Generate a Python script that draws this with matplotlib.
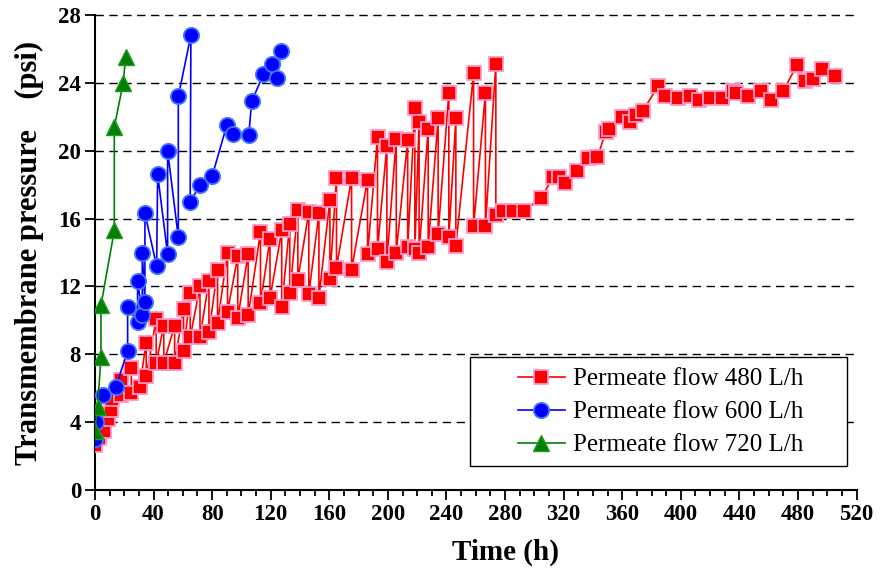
import matplotlib
matplotlib.use('Agg')
import matplotlib.pyplot as plt
from matplotlib.ticker import MultipleLocator
from matplotlib.patches import Rectangle
import numpy as np

plt.rcParams['font.family'] = ['Liberation Serif', 'DejaVu Serif']

# 480 L/h: start-up points, then the fouling/cleaning cycles (high then low), then the tail
red_start_t = [0, 3, 6, 9, 11, 11.5]
red_start_p = [2.65, 3.1, 3.5, 4.2, 4.7, 5.4]
red_cycle_t = [18, 24.8, 30.5, 35, 41.8, 47, 54.4, 60.5, 65, 71.7, 77.8, 83.7,
               90.5, 97.5, 104.6, 113, 119.5, 127.5, 133, 138.5, 146, 152.9,
               160.4, 164.9, 175.2, 186.1, 192.9, 199.3, 205.7, 213.5, 218.4,
               221.3, 227.5, 234.3, 241.6, 246.4, 258.5, 266.6, 273.7]
red_cycle_hi = [6.5, 7.2, 6.1, 8.7, 10.1, 9.7, 9.7, 10.7, 11.6, 12.0, 12.35, 13.0,
                14.0, 13.8, 13.9, 15.2, 14.8, 15.3, 15.7, 16.5, 16.4, 16.3,
                17.1, 18.4, 18.4, 18.3, 20.8, 20.3, 20.7, 20.6, 22.5,
                21.7, 21.3, 21.9, 23.4, 21.9, 24.55, 23.4, 25.1]
red_cycle_lo = [5.6, 5.7, 6.1, 6.7, 7.5, 7.5, 7.5, 8.2, 9.0, 9.0, 9.3, 9.85,
                10.5, 10.15, 10.3, 11.0, 11.3, 10.8, 11.6, 12.4, 11.55, 11.35,
                12.45, 13.1, 13.0, 13.9, 14.2, 13.45, 14.0, 14.3, 14.2,
                14.0, 14.35, 15.1, 14.9, 14.4, 15.55, 15.55, 16.2]
red_tail_t = [278.6, 285.5, 292.7, 304.8, 312.8, 316.9, 320.7, 329.1, 336.6, 343,
              348.7, 351, 360, 365, 369.7, 374.2, 384.4, 389, 398, 406, 412.4,
              420, 428.3, 435.6, 437.8, 445.8, 454.5, 461.8, 469.7, 479.5, 484.5,
              490.2, 496.5, 505]
red_tail_p = [16.47, 16.47, 16.47, 17.2, 18.47, 18.47, 18.08, 18.8, 19.57, 19.6,
              21.1, 21.3, 22.0, 21.7, 22.1, 22.35, 23.8, 23.2, 23.1, 23.2, 22.98,
              23.1, 23.1, 23.5, 23.4, 23.2, 23.5, 23.0, 23.5, 25.06, 24.1,
              24.2, 24.8, 24.4]

blue_t = [0, 1, 5.7, 14.3, 22.3, 22.3, 29.1, 29.1, 32.3, 32.3, 34.1, 34.1, 42.1,
          42.8, 49.6, 49.6, 56.9, 56.9, 65.5, 65, 72, 80, 90, 94, 105, 107, 115,
          121, 124.5, 127]
blue_p = [3.04, 4.0, 5.6, 6.1, 8.2, 10.8, 9.9, 12.35, 10.35, 14.0, 11.1, 16.3, 13.2,
          18.6, 13.9, 20.0, 14.9, 23.2, 26.8, 17.0, 18.0, 18.5, 21.5, 21.0, 20.9,
          22.9, 24.5, 25.1, 24.3, 25.9]

green_t = [0, 1.8, 4.1, 4.1, 13.2, 13.2, 19.3, 20.9]
green_p = [3.5, 4.9, 7.85, 10.9, 15.3, 21.4, 24.0, 25.5]

labels = ['Permeate flow 480 L/h', 'Permeate flow 600 L/h', 'Permeate flow 720 L/h']

# build the red path: each cycle goes up to the high value then drops to the low one
red_t = list(red_start_t)
red_p = list(red_start_p)
for t, hi, lo in zip(red_cycle_t, red_cycle_hi, red_cycle_lo):
    red_t += [t, t]
    red_p += [hi, lo]
red_t += red_tail_t
red_p += red_tail_p

fig = plt.figure(figsize=(8.96, 5.72), dpi=100)
ax = fig.add_axes([0.106, 0.143, 0.850, 0.831])

ax.plot(red_t, red_p, color='red', lw=1.2, marker='s', ms=9.5,
        mfc='red', mec='#ff99cc', mew=1.3, label=labels[0], zorder=3)
ax.plot(blue_t, blue_p, color='blue', lw=1.2, marker='o', ms=11,
        mfc='blue', mec='#4477ff', mew=1.3, label=labels[1], zorder=4)
ax.plot(green_t, green_p, color='green', lw=1.2, marker='^', ms=11,
        mfc='#008000', mec='#229922', mew=1.0, label=labels[2], zorder=5)

ax.set_xlim(0, 520)
ax.set_ylim(0, 28)
ax.xaxis.set_major_locator(MultipleLocator(40))
ax.xaxis.set_minor_locator(MultipleLocator(10))
ax.yaxis.set_major_locator(MultipleLocator(4))

for y in np.arange(4, 29, 4):
    ax.axhline(y, color='black', lw=1.0, ls=(0, (6, 4)), zorder=1, clip_on=False)

for side in ['top', 'right']:
    ax.spines[side].set_visible(False)
for side in ['left', 'bottom']:
    ax.spines[side].set_linewidth(1.5)

ax.tick_params(axis='both', which='major', direction='out', length=7, width=1.3,
               labelsize=16.5, pad=3)
ax.tick_params(axis='x', which='minor', direction='out', length=4, width=1.3)
for lab in ax.get_xticklabels() + ax.get_yticklabels():
    lab.set_fontweight('bold')

ax.set_xlabel('Time (h)', fontsize=21, fontweight='bold')
ax.xaxis.set_label_coords(0.539, -0.103)
ax.set_ylabel('Transmembrane pressure    (psi)', fontsize=22, fontweight='bold',
              labelpad=10)

# legend box drawn separately: the original has wide side padding
ax.add_patch(Rectangle((0.492, 0.0505), 0.495, 0.229, transform=ax.transAxes,
                       facecolor='white', edgecolor='black', lw=1.0, zorder=6))
leg = ax.legend(loc='center left', bbox_to_anchor=(0.555, 0.164), fontsize=18,
                frameon=False, handlelength=1.9, labelspacing=0.42, borderpad=0,
                handletextpad=0.3, borderaxespad=0)
leg.set_zorder(7)

plt.savefig('out.png', dpi=100)
